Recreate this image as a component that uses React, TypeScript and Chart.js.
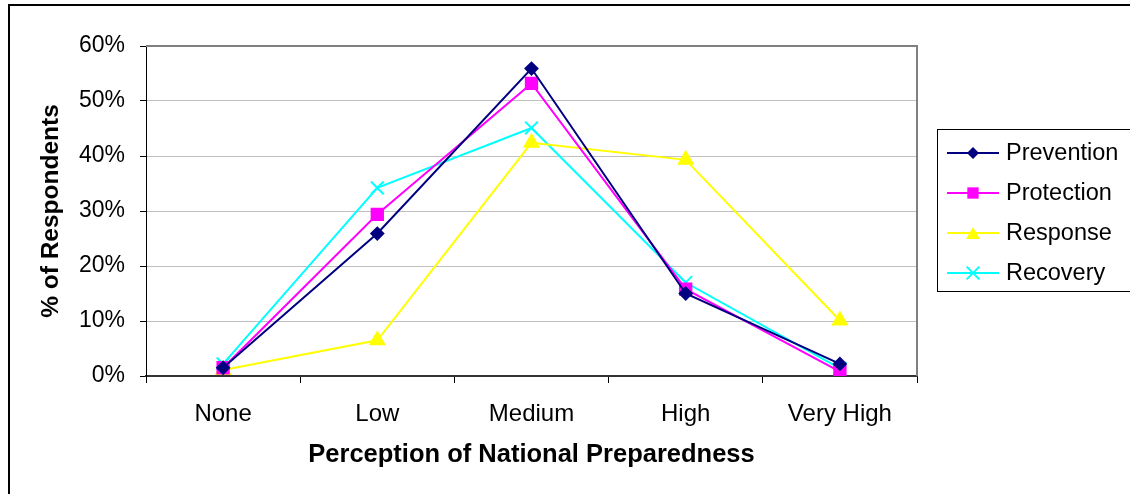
import React, { useEffect, useRef } from "react";
import { Chart, registerables } from "chart.js";

Chart.register(...registerables);

const categories = ["None", "Low", "Medium", "High", "Very High"];
const seriesLabels = ["Prevention", "Protection", "Response", "Recovery"];
const prevention = [1.5, 25.9, 55.9, 15.0, 2.2];
const protection = [1.5, 29.4, 53.2, 15.8, 0.8];
const response = [1.1, 6.5, 42.4, 39.3, 10.1];
const recovery = [2.2, 34.2, 45.1, 17.0, 1.4];
const yTicks = [0, 10, 20, 30, 40, 50, 60];

const seriesValues = [prevention, protection, response, recovery];
const seriesColors = ["#000080", "#FF00FF", "#FFFF00", "#00FFFF"];
const seriesPointStyles = ["rectRot", "rect", "triangle", "crossRot"];
const seriesPointRadius = [6, 8, 8, 9];

const FONT = "'Liberation Sans', Arial, Helvetica, sans-serif";

function drawMarker(ctx: CanvasRenderingContext2D, style: string, x: number, y: number, r: number, color: string) {
  ctx.save();
  ctx.fillStyle = color;
  ctx.strokeStyle = color;
  ctx.lineWidth = 2;
  ctx.beginPath();
  if (style === "rectRot") {
    ctx.moveTo(x, y - r);
    ctx.lineTo(x + r, y);
    ctx.lineTo(x, y + r);
    ctx.lineTo(x - r, y);
    ctx.closePath();
    ctx.fill();
  } else if (style === "rect") {
    const s = Math.SQRT1_2 * r;
    ctx.rect(x - s, y - s, 2 * s, 2 * s);
    ctx.fill();
  } else if (style === "triangle") {
    for (let i = 0; i < 3; i++) {
      const ang = -Math.PI / 2 + (i * 2 * Math.PI) / 3;
      const px = x + Math.cos(ang) * r;
      const py = y + Math.sin(ang) * r + r * 0.25;
      if (i === 0) ctx.moveTo(px, py);
      else ctx.lineTo(px, py);
    }
    ctx.closePath();
    ctx.fill();
  } else {
    const s = Math.SQRT1_2 * r;
    ctx.moveTo(x - s, y - s);
    ctx.lineTo(x + s, y + s);
    ctx.moveTo(x - s, y + s);
    ctx.lineTo(x + s, y - s);
    ctx.stroke();
  }
  ctx.restore();
}

const plotFramePlugin = {
  id: "plotFrame",
  beforeDatasetsDraw(chart: any) {
    const { ctx, chartArea } = chart;
    ctx.save();
    ctx.strokeStyle = "#808080";
    ctx.lineWidth = 2;
    ctx.beginPath();
    ctx.moveTo(chartArea.left, chartArea.top);
    ctx.lineTo(chartArea.right, chartArea.top);
    ctx.lineTo(chartArea.right, chartArea.bottom);
    ctx.stroke();
    ctx.restore();
  },
};

const boxLegendPlugin = {
  id: "boxLegend",
  afterDraw(chart: any) {
    const { ctx } = chart;
    const left = 937.5;
    const top = 129.5;
    const width = 200;
    const height = 162;
    ctx.save();
    ctx.fillStyle = "#ffffff";
    ctx.fillRect(left, top, width, height);
    ctx.strokeStyle = "#000000";
    ctx.lineWidth = 1;
    ctx.strokeRect(left, top, width, height);
    const rowStart = 153;
    const rowStep = 40;
    chart.data.datasets.forEach((ds: any, i: number) => {
      const y = rowStart + i * rowStep;
      ctx.strokeStyle = ds.borderColor;
      ctx.lineWidth = 2;
      ctx.beginPath();
      ctx.moveTo(947, y);
      ctx.lineTo(999, y);
      ctx.stroke();
      drawMarker(ctx, ds.pointStyle, 973, y, ds.pointRadius, ds.borderColor);
      ctx.fillStyle = "#000000";
      ctx.font = `23.5px ${FONT}`;
      ctx.textAlign = "left";
      ctx.textBaseline = "middle";
      ctx.fillText(ds.label, 1006, y + 1);
    });
    ctx.restore();
  },
};

export default function App() {
  const canvasRef = useRef<HTMLCanvasElement | null>(null);

  useEffect(() => {
    if (!canvasRef.current) return;
    const chart = new Chart(canvasRef.current, {
      type: "line",
      data: {
        labels: categories,
        datasets: seriesLabels.map((label, i) => ({
          label,
          data: seriesValues[i],
          borderColor: seriesColors[i],
          backgroundColor: seriesColors[i],
          borderWidth: 2,
          pointStyle: seriesPointStyles[i] as any,
          pointRadius: seriesPointRadius[i],
          pointBorderWidth: 2,
          fill: false,
          tension: 0,
        })),
      },
      options: {
        animation: false,
        responsive: false,
        devicePixelRatio: 1,
        layout: { padding: { left: 0, top: 46, right: 213, bottom: 0 } },
        plugins: {
          legend: { display: false },
          tooltip: { enabled: false },
        },
        scales: {
          x: {
            type: "category",
            offset: true,
            grid: {
              offset: true,
              drawOnChartArea: false,
              drawTicks: true,
              tickLength: 7,
              tickColor: "#000000",
            },
            border: { color: "#333333", width: 2 },
            ticks: {
              color: "#000000",
              font: { family: FONT, size: 24 },
              padding: 17,
              maxRotation: 0,
            },
            title: {
              display: true,
              text: "Perception of National Preparedness",
              color: "#000000",
              font: { family: FONT, size: 25.5, weight: "bold" },
              padding: { top: 0, bottom: 24 },
            },
            afterFit: (s: any) => {
              s.height = 118;
            },
          },
          y: {
            min: 0,
            max: 60,
            afterBuildTicks: (s: any) => {
              s.ticks = yTicks.map((v) => ({ value: v }));
            },
            grid: {
              color: "#c0c0c0",
              lineWidth: 1,
              tickLength: 6,
              tickColor: "#000000",
            },
            border: { color: "#000000", width: 1 },
            ticks: {
              color: "#000000",
              font: { family: FONT, size: 23 },
              padding: 15,
              callback: (v: any) => `${v}%`,
            },
            title: {
              display: true,
              text: "% of Respondents",
              color: "#000000",
              font: { family: FONT, size: 24.5, weight: "bold" },
              padding: { top: 37, bottom: 0 },
            },
            afterFit: (s: any) => {
              s.width = 146;
            },
          },
        },
      },
      plugins: [plotFramePlugin, boxLegendPlugin],
    });
    return () => chart.destroy();
  }, []);

  return (
    <div
      style={{
        position: "fixed",
        left: 0,
        top: 0,
        width: 1130,
        height: 494,
        overflow: "hidden",
        background: "#ffffff",
      }}
    >
      <canvas ref={canvasRef} width={1130} height={494} style={{ position: "absolute", left: 0, top: 0 }} />
      <div
        style={{
          position: "absolute",
          left: 8,
          top: 4,
          width: 1140,
          height: 500,
          border: "2px solid #000000",
          boxSizing: "border-box",
          pointerEvents: "none",
        }}
      />
    </div>
  );
}
